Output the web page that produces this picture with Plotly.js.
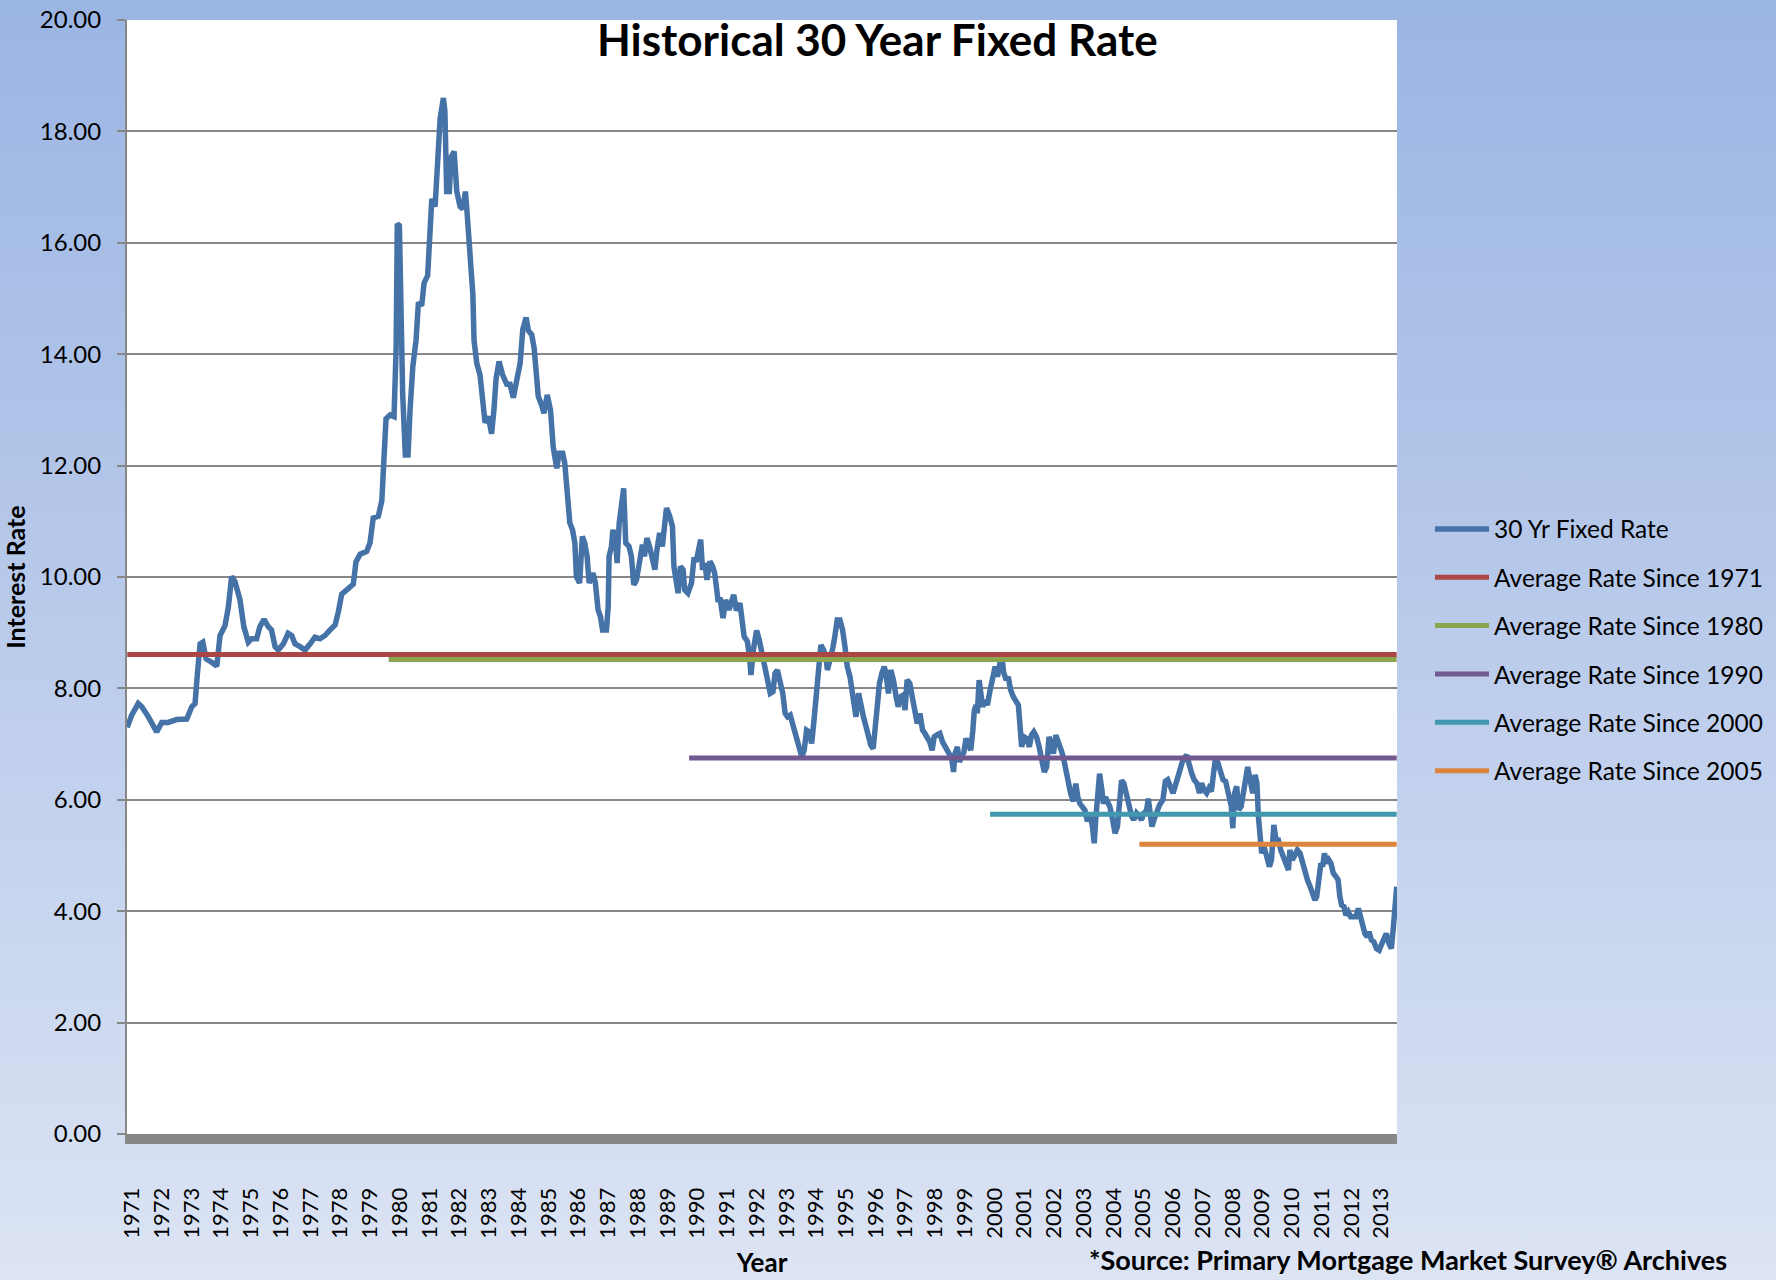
<!DOCTYPE html>
<html>
<head>
<meta charset="utf-8">
<script src="https://cdn.plot.ly/plotly-3.0.1.min.js"></script>
<style>
  html, body { margin: 0; padding: 0; }
  body { width: 1776px; height: 1280px; overflow: hidden;
         background: linear-gradient(to bottom, #9bb5e3 0%, #b7c9ea 45%, #dce4f4 100%); }
  #chart { width: 1776px; height: 1280px; }
</style>
</head>
<body>
<div id="chart"></div>
<script>
// Position along the year axis (tick "1971" sits at 1971) and 30-yr fixed rate (%)
const rateYears = [
 1970.84,1970.99,1971.21,1971.33,1971.55,1971.66,1971.83,1972.00,1972.22,1972.50,1972.84,1973.01,1973.12,1973.20,1973.29,1973.38,1973.49,1973.68,1973.85,1973.96,
 1974.13,1974.24,1974.35,1974.46,1974.63,1974.76,1974.91,1975.02,1975.19,1975.30,1975.44,1975.58,1975.69,1975.81,1975.92,1976.09,1976.25,1976.37,1976.48,1976.65,
 1976.82,1976.99,1977.15,1977.32,1977.49,1977.66,1977.83,1977.94,1978.05,1978.27,1978.44,1978.53,1978.67,1978.89,1979.00,1979.11,1979.28,1979.40,1979.47,1979.54,
 1979.68,1979.81,1979.88,1979.92,1979.99,1980.04,1980.10,1980.19,1980.28,1980.35,1980.44,1980.55,1980.63,1980.74,1980.82,1980.94,1981.02,1981.08,1981.19,1981.27,
 1981.36,1981.47,1981.52,1981.58,1981.67,1981.73,1981.83,1981.92,1982.03,1982.12,1982.21,1982.27,1982.37,1982.46,1982.50,1982.59,1982.70,1982.79,1982.87,1982.98,
 1983.09,1983.17,1983.24,1983.34,1983.46,1983.60,1983.71,1983.82,1983.94,1984.05,1984.14,1984.25,1984.33,1984.44,1984.52,1984.60,1984.66,1984.77,1984.85,1984.96,
 1985.07,1985.16,1985.22,1985.28,1985.36,1985.48,1985.55,1985.61,1985.72,1985.81,1985.89,1985.94,1986.05,1986.14,1986.22,1986.30,1986.37,1986.50,1986.58,1986.67,
 1986.75,1986.82,1986.95,1987.01,1987.04,1987.12,1987.17,1987.27,1987.31,1987.38,1987.46,1987.53,1987.60,1987.71,1987.79,1987.87,1987.96,1988.04,1988.16,1988.23,
 1988.31,1988.40,1988.49,1988.58,1988.65,1988.74,1988.83,1988.91,1988.97,1989.08,1989.17,1989.22,1989.30,1989.36,1989.44,1989.53,1989.58,1989.69,1989.81,1989.89,
 1989.98,1990.06,1990.12,1990.18,1990.26,1990.33,1990.43,1990.52,1990.59,1990.70,1990.78,1990.87,1990.96,1991.07,1991.15,1991.23,1991.32,1991.44,1991.58,1991.69,
 1991.76,1991.81,1991.89,1992.00,1992.09,1992.17,1992.25,1992.34,1992.46,1992.55,1992.62,1992.70,1992.79,1992.88,1992.96,1993.04,1993.13,1993.21,1993.29,1993.37,
 1993.46,1993.52,1993.60,1993.68,1993.77,1993.85,1993.93,1994.00,1994.08,1994.16,1994.25,1994.33,1994.38,1994.47,1994.56,1994.63,1994.71,1994.80,1994.89,1994.97,
 1995.05,1995.14,1995.25,1995.34,1995.43,1995.50,1995.59,1995.68,1995.76,1995.84,1995.92,1995.99,1996.06,1996.13,1996.21,1996.29,1996.35,1996.43,1996.51,1996.60,
 1996.69,1996.76,1996.84,1996.93,1996.99,1997.06,1997.15,1997.24,1997.32,1997.40,1997.49,1997.58,1997.66,1997.73,1997.82,1997.90,1997.97,1998.05,1998.16,1998.25,
 1998.36,1998.47,1998.56,1998.62,1998.67,1998.75,1998.82,1998.90,1998.97,1999.04,1999.12,1999.20,1999.27,1999.32,1999.38,1999.42,1999.48,1999.55,1999.60,1999.68,
 1999.76,1999.85,1999.94,2000.02,2000.10,2000.19,2000.24,2000.30,2000.39,2000.46,2000.54,2000.63,2000.72,2000.80,2000.85,2000.91,2000.99,2001.08,2001.17,2001.24,
 2001.32,2001.41,2001.50,2001.59,2001.67,2001.75,2001.83,2001.90,2001.98,2002.06,2002.15,2002.24,2002.31,2002.39,2002.48,2002.56,2002.65,2002.73,2002.80,2002.87,
 2002.96,2003.04,2003.12,2003.21,2003.29,2003.35,2003.40,2003.46,2003.53,2003.61,2003.66,2003.73,2003.79,2003.88,2003.97,2004.05,2004.13,2004.20,2004.27,2004.35,
 2004.44,2004.52,2004.61,2004.68,2004.77,2004.86,2004.94,2005.02,2005.11,2005.17,2005.22,2005.29,2005.36,2005.45,2005.54,2005.66,2005.74,2005.82,2005.91,2006.00,
 2006.07,2006.15,2006.22,2006.30,2006.37,2006.46,2006.55,2006.63,2006.71,2006.80,2006.89,2006.96,2007.04,2007.13,2007.21,2007.29,2007.37,2007.43,2007.51,2007.59,
 2007.68,2007.77,2007.85,2007.90,2007.96,2008.01,2008.07,2008.14,2008.21,2008.29,2008.37,2008.43,2008.51,2008.59,2008.68,2008.76,2008.82,2008.87,2008.93,2008.98,
 2009.06,2009.15,2009.24,2009.31,2009.39,2009.46,2009.54,2009.62,2009.71,2009.80,2009.88,2009.93,2010.01,2010.10,2010.18,2010.27,2010.36,2010.44,2010.52,2010.61,
 2010.70,2010.77,2010.83,2010.90,2010.97,2011.03,2011.09,2011.17,2011.24,2011.31,2011.39,2011.48,2011.55,2011.61,2011.67,2011.75,2011.81,2011.89,2011.97,2012.06,
 2012.15,2012.23,2012.30,2012.37,2012.45,2012.53,2012.59,2012.67,2012.75,2012.84,2012.93,2013.00,2013.08,2013.17,2013.26,2013.34,2013.40,2013.45,2013.52
];
const rateValues = [
 7.30,7.52,7.73,7.67,7.49,7.40,7.22,7.39,7.39,7.44,7.45,7.67,7.73,8.27,8.80,8.83,8.53,8.47,8.40,8.95,
 9.13,9.46,10.01,9.92,9.59,9.11,8.83,8.89,8.89,9.11,9.24,9.11,9.05,8.75,8.69,8.80,8.99,8.95,8.80,8.75,
 8.69,8.80,8.92,8.89,8.95,9.05,9.14,9.38,9.69,9.79,9.87,10.27,10.41,10.46,10.61,11.06,11.09,11.37,12.05,12.84,
 12.91,12.88,14.11,16.34,16.31,14.80,13.29,12.19,12.19,13.01,13.77,14.25,14.93,14.87,15.28,15.41,16.03,16.79,16.65,17.27,
 18.23,18.60,18.36,16.92,16.92,17.54,17.64,16.92,16.65,16.61,16.92,16.51,15.62,15.07,14.25,13.84,13.63,13.08,12.77,12.88,
 12.57,13.01,13.56,13.87,13.63,13.46,13.46,13.22,13.49,13.84,14.45,14.66,14.42,14.35,14.11,13.66,13.24,13.09,12.94,13.27,
 13.00,12.34,12.04,11.95,12.22,12.22,12.04,11.63,10.97,10.85,10.61,10.01,9.89,10.73,10.61,10.37,9.89,10.07,9.89,9.41,
 9.29,9.05,9.05,9.47,10.37,10.55,10.85,10.55,10.25,10.97,11.27,11.59,10.61,10.55,10.37,9.86,9.94,10.25,10.58,10.37,
 10.70,10.55,10.37,10.13,10.49,10.79,10.55,10.97,11.24,11.09,10.91,10.19,9.83,9.71,10.19,10.13,9.77,9.71,9.89,10.31,
 10.31,10.49,10.67,10.13,10.25,9.95,10.28,10.19,10.07,9.59,9.59,9.26,9.59,9.41,9.53,9.68,9.40,9.53,8.93,8.84,
 8.57,8.24,8.69,9.04,8.87,8.66,8.39,8.15,7.91,7.94,8.27,8.33,8.15,7.91,7.55,7.49,7.52,7.37,7.25,7.13,
 6.95,6.77,6.89,7.25,7.22,7.01,7.43,7.91,8.39,8.78,8.69,8.57,8.33,8.51,8.72,8.93,9.23,9.23,9.05,8.75,
 8.39,8.21,7.79,7.49,7.91,7.67,7.49,7.31,7.13,6.98,6.92,7.31,7.79,8.09,8.27,8.39,8.27,7.91,8.33,8.15,
 7.85,7.67,7.85,7.88,7.61,8.15,8.09,7.79,7.55,7.37,7.55,7.25,7.19,7.13,7.04,6.89,7.13,7.16,7.19,7.04,
 6.95,6.83,6.74,6.50,6.83,6.95,6.68,6.77,6.86,7.10,7.01,6.89,7.25,7.61,7.70,7.55,8.15,7.91,7.67,7.79,
 7.70,7.97,8.27,8.39,8.21,8.45,8.64,8.30,8.15,8.21,7.97,7.85,7.76,7.70,7.37,6.95,7.13,7.10,6.95,7.16,
 7.22,7.13,6.95,6.71,6.50,6.59,7.13,7.01,6.83,7.16,6.98,6.89,6.77,6.53,6.35,6.11,5.97,6.29,6.05,5.93,
 5.87,5.81,5.61,5.76,5.52,5.22,5.64,6.23,6.47,6.17,5.93,6.05,5.99,5.87,5.64,5.40,5.52,6.05,6.35,6.29,
 6.05,5.87,5.70,5.64,5.76,5.70,5.64,5.76,5.81,6.02,5.76,5.52,5.64,5.81,5.90,6.00,6.33,6.36,6.24,6.12,
 6.24,6.36,6.51,6.66,6.75,6.80,6.59,6.47,6.36,6.30,6.12,6.30,6.18,6.12,6.21,6.15,6.51,6.75,6.66,6.51,
 6.36,6.33,6.12,5.94,5.88,5.49,6.12,6.24,5.82,5.88,6.18,6.36,6.59,6.36,6.12,6.45,6.30,5.70,5.28,5.04,
 5.16,4.98,4.80,4.92,5.55,5.28,5.28,5.10,4.98,4.86,4.74,5.10,4.92,5.01,5.10,5.04,4.86,4.68,4.56,4.44,
 4.32,4.20,4.26,4.68,4.86,4.80,5.04,4.86,4.92,4.86,4.68,4.62,4.56,4.26,4.11,4.08,3.93,3.99,3.90,3.90,
 3.90,4.05,3.90,3.72,3.60,3.54,3.63,3.48,3.45,3.33,3.30,3.39,3.48,3.60,3.42,3.33,3.66,3.96,4.44
];

// Average-rate reference lines
const avgNames  = ["Average Rate Since 1971","Average Rate Since 1980","Average Rate Since 1990","Average Rate Since 2000","Average Rate Since 2005"];
const avgStart  = [1970.84, 1979.63, 1989.73, 1999.85, 2004.87];
const avgValues = [8.61, 8.52, 6.75, 5.74, 5.20];

const yearLabels = [];
for (let y = 1971; y <= 2013; y++) yearLabels.push(y);

const seriesColors = ["#4572A7", "#AA4643", "#89A54E", "#71588F", "#4198AF", "#DB843D"];

const FONT = "Lato, 'Open Sans', sans-serif";
const xEnd = rateYears[rateYears.length - 1];

const traces = [{
  type: "scatter", mode: "lines",
  name: "30 Yr Fixed Rate",
  x: rateYears, y: rateValues,
  line: { color: seriesColors[0], width: 5.5 },
  legendgroup: "g0"
}];
avgNames.forEach((n, i) => {
  traces.push({
    type: "scatter", mode: "lines", name: n,
    x: [avgStart[i], xEnd], y: [avgValues[i], avgValues[i]],
    line: { color: seriesColors[i + 1], width: 5 },
    legendgroup: "g" + (i + 1)
  });
});

const layout = {
  width: 1776, height: 1280,
  margin: { l: 127, r: 379, t: 20, b: 146, pad: 0 },
  paper_bgcolor: "rgba(0,0,0,0)",
  plot_bgcolor: "#ffffff",
  font: { family: FONT, size: 23, color: "#000000" },
  showlegend: true,
  title: {
    text: "Historical 30 Year Fixed Rate",
    font: { family: FONT, size: 44, weight: 700, color: "#000000" },
    xref: "container", x: 0.494, xanchor: "center",
    yref: "container", y: 0.968, yanchor: "middle"
  },
  xaxis: {
    range: [1970.832, 2013.53],
    tickmode: "array",
    tickvals: yearLabels,
    ticktext: yearLabels.map(String),
    tickangle: -90,
    ticks: "",
    ticklabelstandoff: 35,
    tickfont: { family: FONT, size: 22, color: "#000000" },
    showgrid: false, zeroline: false,
    showline: true, linecolor: "#878787", linewidth: 10,
    title: { text: "Year", font: { family: FONT, size: 26, weight: 700, color: "#000000" }, standoff: 20 },
    fixedrange: true
  },
  yaxis: {
    range: [0, 20],
    tickmode: "linear", tick0: 0, dtick: 2,
    tickformat: ".2f",
    ticks: "outside", ticklen: 8, tickcolor: "#878787", tickwidth: 2,
    ticklabelstandoff: 11,
    tickfont: { family: FONT, size: 24, color: "#000000" },
    showgrid: true, gridcolor: "#878787", gridwidth: 2,
    zeroline: false,
    showline: true, linecolor: "#878787", linewidth: 2,
    title: { text: "Interest Rate", font: { family: FONT, size: 25, weight: 700, color: "#000000" }, standoff: 8 },
    fixedrange: true
  },
  legend: {
    xref: "container", x: 1430 / 1776, xanchor: "left",
    yref: "paper", y: 0.4345, yanchor: "middle",
    bgcolor: "rgba(0,0,0,0)", borderwidth: 0,
    font: { family: FONT, size: 24.5, color: "#000000" },
    itemwidth: 54,
    tracegroupgap: 13.5,
    traceorder: "grouped"
  },
  annotations: [{
    text: "*Source: Primary Mortgage Market Survey® Archives",
    xref: "paper", x: (1087 - 127) / 1270, xanchor: "left",
    yref: "paper", y: (1134 - 1278) / 1114, yanchor: "bottom",
    showarrow: false,
    font: { family: FONT, size: 27, weight: 700, color: "#000000" }
  }]
};

Plotly.newPlot("chart", traces, layout, { staticPlot: true, displayModeBar: false });
</script>
</body>
</html>
